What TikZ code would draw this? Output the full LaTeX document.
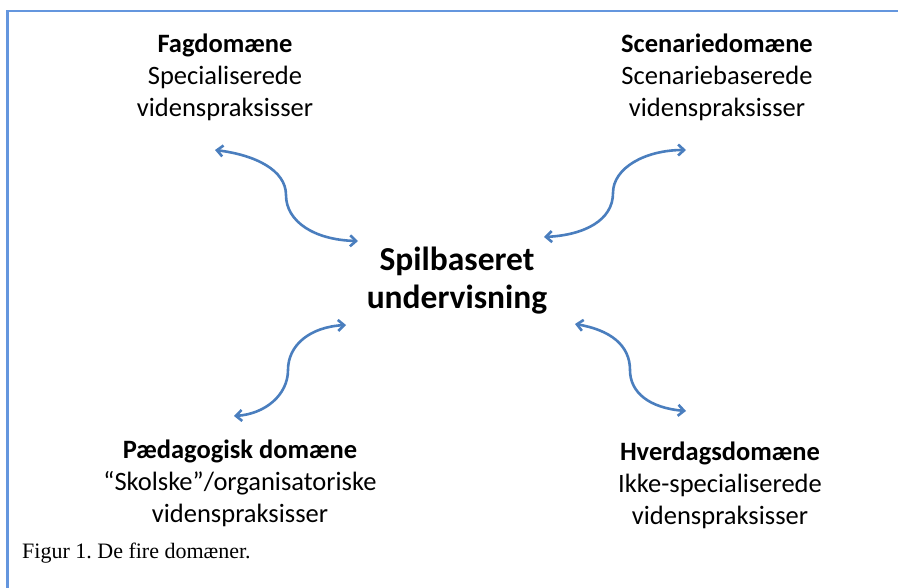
\documentclass[tikz,border=0pt]{standalone}
\usepackage{fontspec}
\setmainfont{Carlito}
\newfontfamily\capfont{Liberation Serif}
\usetikzlibrary{arrows.meta}
\definecolor{arrowblue}{RGB}{74,126,190}
\definecolor{frameblue}{RGB}{100,150,222}
\tikzset{
  lbl/.style={align=center, font=\fontsize{26.5}{32}\selectfont, inner sep=0pt},
  center/.style={align=center, font=\fontsize{33.5}{38}\selectfont\bfseries, inner sep=0pt},
  conn/.style={draw=arrowblue, line width=2.6pt, {Straight Barb[length=6pt,width=11pt]}-{Straight Barb[length=6pt,width=11pt]}},
}
\begin{document}
\begin{tikzpicture}[x=1pt,y=-1pt]
\useasboundingbox (0,0) rectangle (898,588);
\draw[frameblue, line width=2.2pt] (7.5,588) -- (7.5,11) -- (898,11);

\node[lbl] (fag) at (225,77) {\textbf{Fagdomæne}\\Specialiserede\\videnspraksisser};
\node[lbl] (scen) at (717,77) {\textbf{Scenariedomæne}\\Scenariebaserede\\videnspraksisser};
\node[center] (mid) at (457,281) {Spilbaseret\\undervisning};
\node[lbl] (paed) at (240,483) {\textbf{Pædagogisk domæne}\\“Skolske”/organisatoriske\\videnspraksisser};
\node[lbl] (hverd) at (720,485) {\textbf{Hverdagsdomæne}\\Ikke-specialiserede\\videnspraksisser};
\node[anchor=west, inner sep=0pt, font=\capfont\fontsize{22}{24}\selectfont] (cap) at (22,553) {\frenchspacing Figur 1. De fire domæner.};

\coordinate (a1) at (215,150); \coordinate (b1) at (358,241);
\coordinate (a2) at (686,150); \coordinate (b2) at (544,237);
\coordinate (a3) at (346,325); \coordinate (b3) at (234,416);
\coordinate (a4) at (575,324); \coordinate (b4) at (686,411);

\draw[conn] (a1) .. controls (255,155) and (286,170) .. (286,195) .. controls (286,222) and (315,240) .. (b1);
\draw[conn] (a2) .. controls (645,150) and (613,168) .. (613,193) .. controls (613,220) and (585,235) .. (b2);
\draw[conn] (a3) .. controls (310,327) and (288,345) .. (288,370) .. controls (288,395) and (265,414) .. (b3);
\draw[conn] (a4) .. controls (610,330) and (630,345) .. (630,370) .. controls (630,393) and (650,408) .. (b4);
\end{tikzpicture}
\end{document}
